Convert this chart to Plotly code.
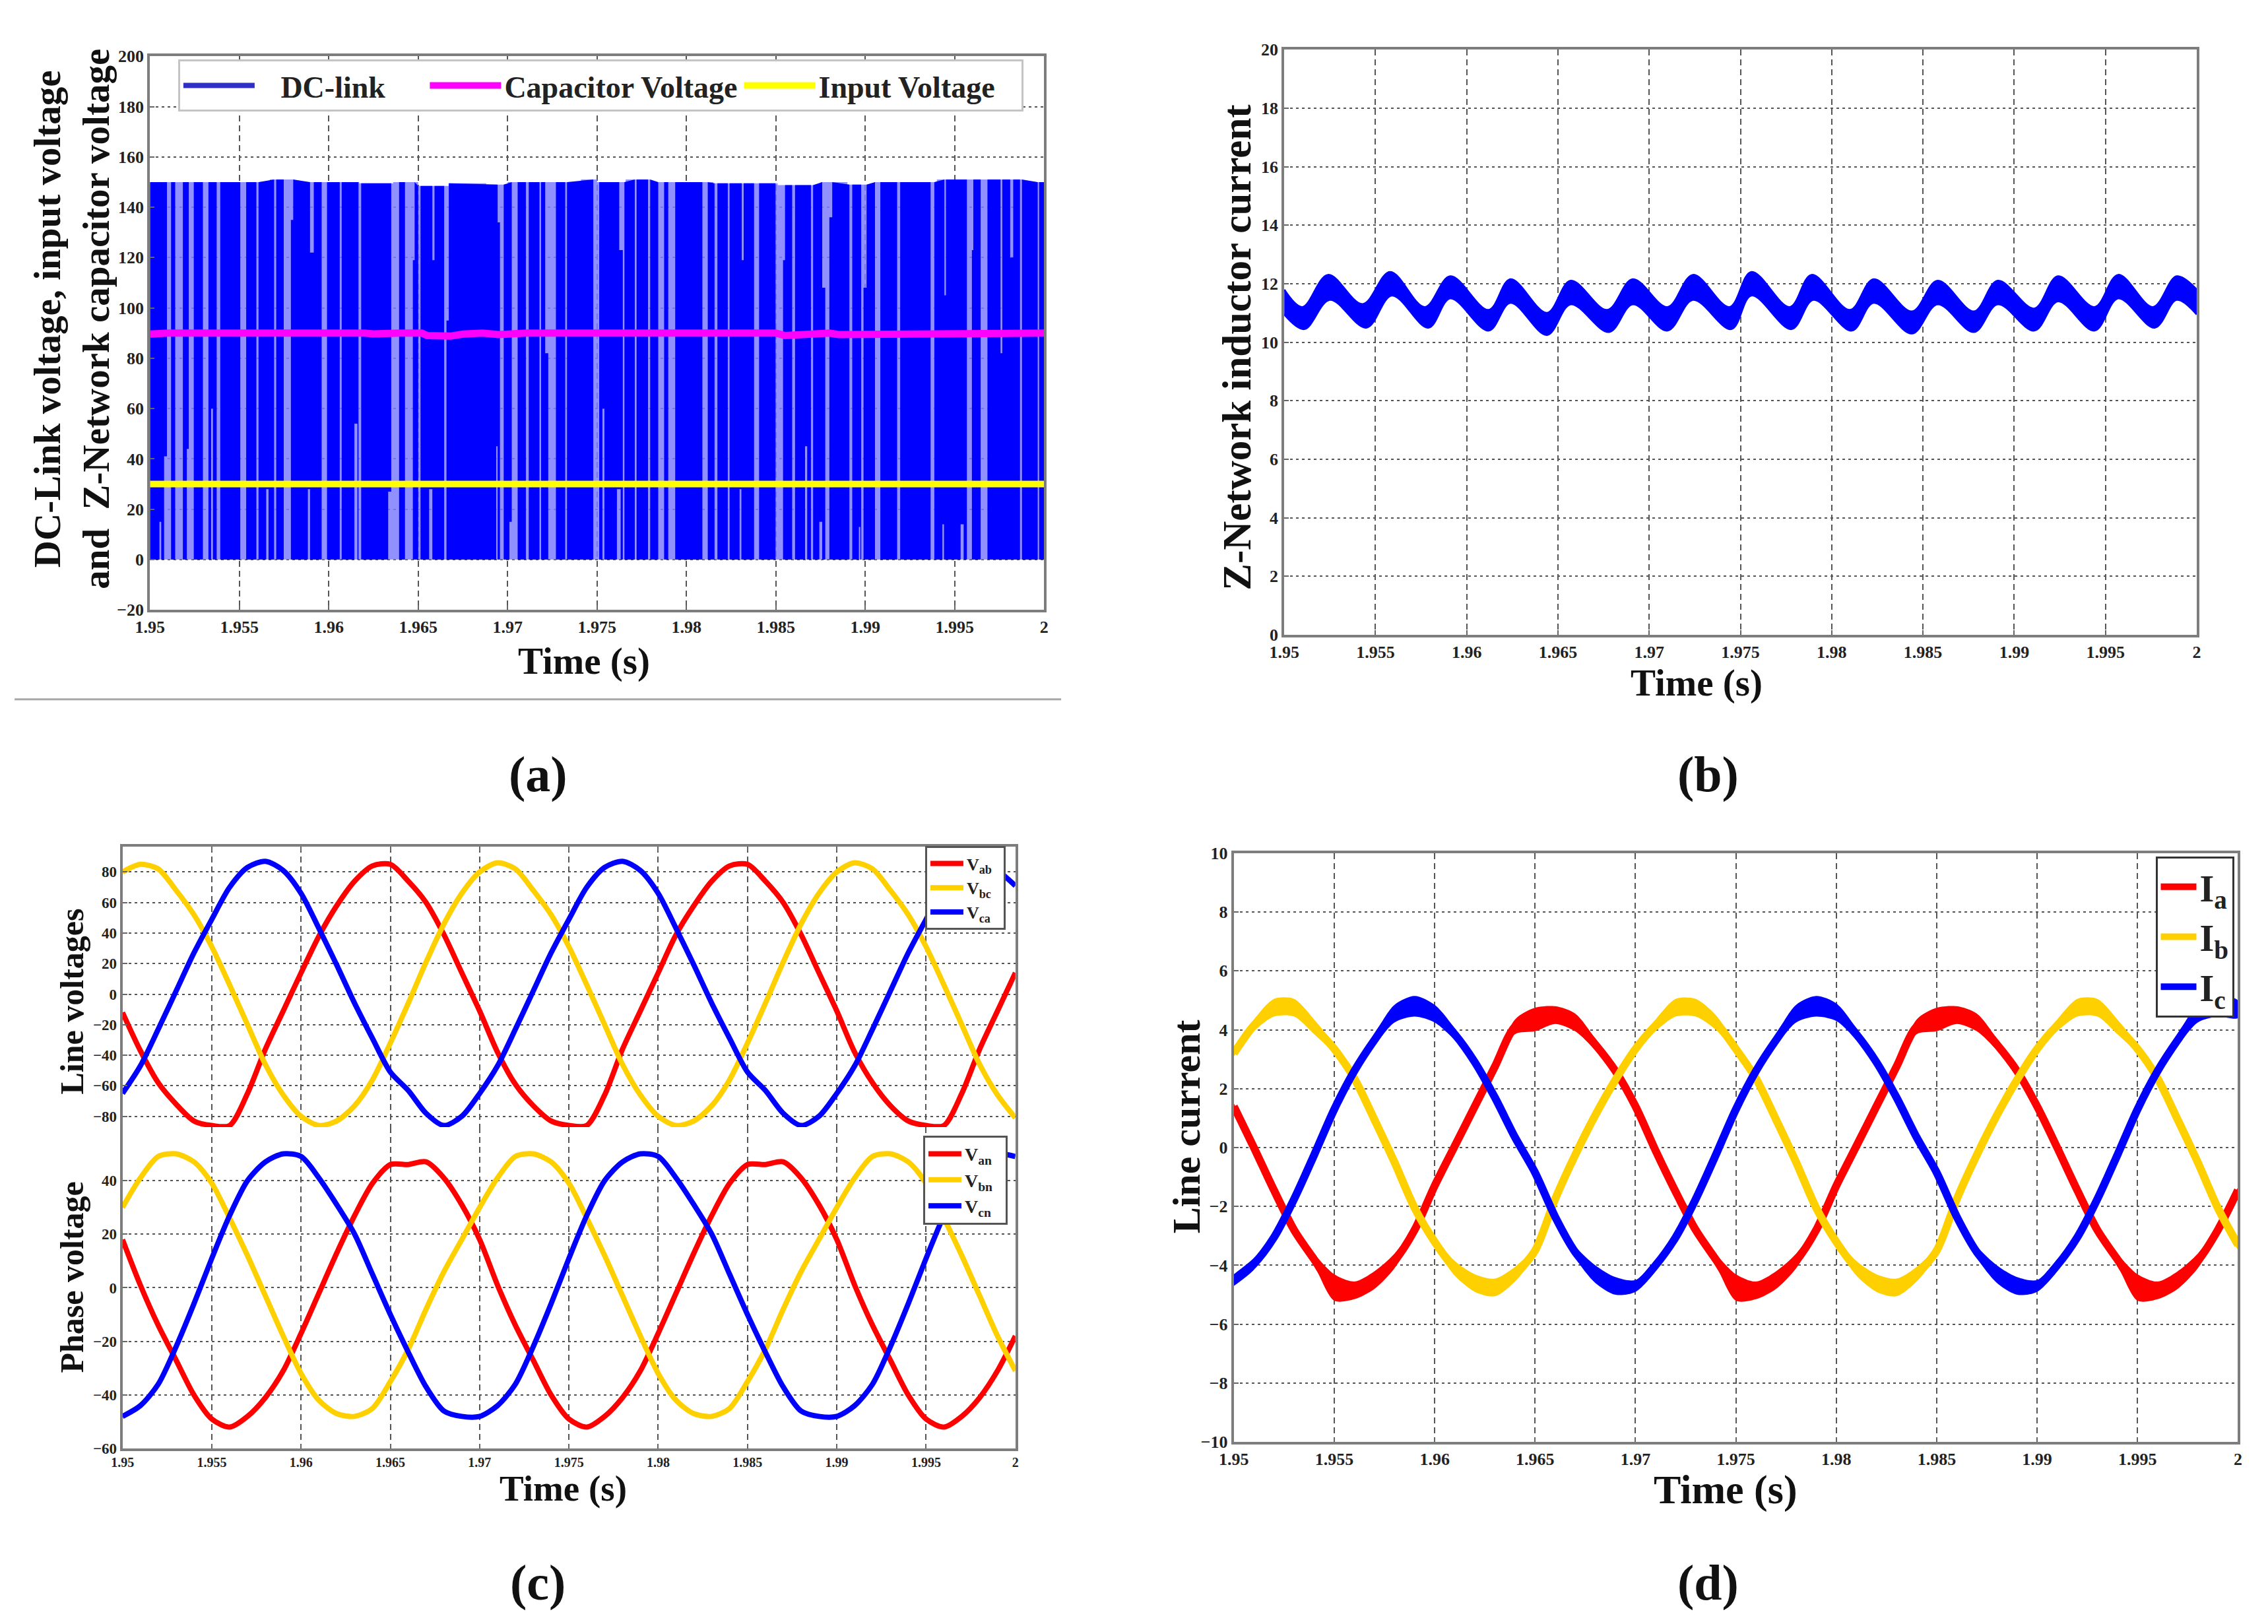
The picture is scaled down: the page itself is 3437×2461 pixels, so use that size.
#%% imports and data
from bisect import bisect_right

import numpy as np
import plotly.graph_objects as go

W, H = 3437, 2461
SERIF = "Liberation Serif"

time_s = np.linspace(1.95, 2.0, 51)
x_ticks = [1.95, 1.955, 1.96, 1.965, 1.97, 1.975, 1.98, 1.985, 1.99, 1.995, 2.0]
x_ticktext = ["1.95", "1.955", "1.96", "1.965", "1.97", "1.975", "1.98", "1.985", "1.99", "1.995", "2"]

# (a) dc link: top edge of the pulses and the lighter gaps between them
dc_top_t = [1.95, 1.9567, 1.9581, 1.9617, 1.9636, 1.965, 1.9667, 1.9688, 1.97, 1.9741, 1.975, 1.9766, 1.978, 1.9815, 1.9851, 1.9875, 1.989, 1.9905, 1.994, 1.9988, 2.0]
dc_top_v = [150, 151, 150, 149.5, 150, 148.5, 149.5, 149, 150, 151, 150, 151, 150, 149.5, 148.8, 150, 149, 150, 151, 150, 150]
gap_t0 = [1.95095, 1.95141, 1.95217, 1.95296, 1.95373, 1.95505, 1.95595, 1.95694, 1.95748, 1.95788, 1.95895, 1.9596, 1.96061, 1.96166, 1.96349, 1.96426, 1.9647, 1.965, 1.96579, 1.96645, 1.96658, 1.96944, 1.96957, 1.97023, 1.97102, 1.97178, 1.9721, 1.97227, 1.97322, 1.97479, 1.97624, 1.97644, 1.97711, 1.97785, 1.97842, 1.97898, 1.98089, 1.98157, 1.98231, 1.98309, 1.98378, 1.98498, 1.9854, 1.98591, 1.98696, 1.98759, 1.98776, 1.98799, 1.98911, 1.98977, 1.9899, 1.99054, 1.99178, 1.99365, 1.99442, 1.99568, 1.99596, 1.99645, 1.99756, 1.9981, 1.99865, 1.99964]
gap_t1 = [1.95118, 1.95184, 1.95245, 1.95327, 1.95393, 1.95538, 1.95607, 1.95706, 1.95788, 1.95801, 1.95916, 1.9599, 1.96072, 1.96181, 1.96393, 1.9647, 1.9648, 1.96513, 1.96591, 1.96658, 1.96671, 1.96957, 1.96978, 1.97056, 1.97118, 1.97187, 1.97227, 1.9727, 1.97332, 1.97512, 1.97644, 1.97653, 1.97721, 1.97797, 1.97875, 1.97937, 1.98119, 1.98173, 1.98241, 1.9832, 1.98406, 1.9854, 1.98551, 1.98607, 1.98708, 1.98776, 1.98799, 1.98815, 1.98927, 1.9899, 1.99007, 1.99084, 1.99195, 1.99386, 1.99451, 1.99596, 1.99604, 1.99683, 1.99766, 1.99827, 1.99876, 1.99972]
gap_lo = [0, 0, 0, 0, 0, 0, 0, 0, 0, 135, 122, 0, 0, 0, 0, 0, 119, 0, 119, 0, 95, 134, 0, 0, 0, 0, 82, 0, 0, 0, 123, 0, 0, 0, 0, 0, 0, 0, 0, 119, 0, 0, 119, 0, 0, 108, 0, 136, 0, 0, 108, 0, 0, 0, 105, 0, 123, 0, 82, 120, 0, 0]
low_t0 = [1.95053, 1.95079, 1.95206, 1.95342, 1.9565, 1.95883, 1.96143, 1.96332, 1.96561, 1.96936, 1.9701, 1.9753, 1.97611, 1.98297, 1.98663, 1.98743, 1.98964, 1.99431, 1.99533]
low_t1 = [1.95063, 1.95095, 1.95217, 1.95352, 1.95663, 1.95895, 1.9616, 1.96349, 1.96579, 1.96944, 1.97023, 1.97541, 1.97632, 1.98307, 1.98675, 1.98759, 1.98972, 1.9944, 1.9955]
low_hi = [15, 41, 44, 60, 28, 28, 54, 27, 28, 45, 15, 60, 28, 28, 45, 15, 13, 14, 14]
cap_t = [1.95, 1.951, 1.962, 1.9625, 1.964, 1.9652, 1.9655, 1.9668, 1.9675, 1.9686, 1.9695, 1.971, 1.985, 1.9855, 1.987, 1.988, 1.9885, 1.9895, 1.9905, 2.0]
cap_v = [89.6, 90, 90, 89.7, 90, 90, 89, 88.8, 89.6, 90, 89.4, 90, 90, 89, 89.6, 90, 89.4, 89.4, 90, 90]
input_t = [1.95, 2.0]
input_v = [30, 30]

# (b) inductor current band, outer and inner edge
il_top_t = [1.95, 1.951, 1.9524, 1.9543, 1.9558, 1.9577, 1.9591, 1.9612, 1.9624, 1.9644, 1.9657, 1.9677, 1.9691, 1.971, 1.9724, 1.9744, 1.9756, 1.9777, 1.9789, 1.981, 1.9823, 1.9844, 1.9858, 1.9878, 1.9891, 1.9911, 1.9924, 1.9944, 1.9957, 1.9976, 1.9989, 2.0]
il_top_v = [11.8, 11.2, 12.3, 11.3, 12.4, 11.2, 12.25, 11.1, 12.15, 11.0, 12.1, 11.1, 12.15, 11.2, 12.3, 11.2, 12.4, 11.2, 12.3, 11.1, 12.15, 11.05, 12.1, 11.05, 12.1, 11.15, 12.25, 11.2, 12.3, 11.2, 12.25, 11.8]
il_low_t = [1.95, 1.9511, 1.9525, 1.9545, 1.9559, 1.9579, 1.9591, 1.9612, 1.9624, 1.9644, 1.9657, 1.9678, 1.9691, 1.971, 1.9724, 1.9745, 1.9756, 1.9778, 1.979, 1.9811, 1.9823, 1.9844, 1.9858, 1.9878, 1.9891, 1.9911, 1.9924, 1.9944, 1.9957, 1.9977, 1.9989, 2.0]
il_low_v = [10.95, 10.45, 11.45, 10.5, 11.6, 10.5, 11.5, 10.4, 11.35, 10.25, 11.3, 10.35, 11.3, 10.4, 11.45, 10.45, 11.6, 10.45, 11.45, 10.4, 11.35, 10.3, 11.3, 10.35, 11.3, 10.4, 11.4, 10.4, 11.5, 10.5, 11.45, 10.95]

# (c) line voltages
v_ab = [-12, -37, -58, -72, -83, -86, -86, -65, -36, -11, 14, 38, 58, 74, 84, 85, 74, 60, 39, 14, -11, -38, -59, -73, -83, -86, -86, -66, -36, -11, 14, 39, 58, 74, 84, 85, 74, 60, 39, 14, -11, -38, -58, -73, -83, -86, -86, -65, -36, -11, 14]
v_bc = [80, 85, 82, 68, 52, 31, 6, -20, -46, -66, -80, -86, -83, -73, -56, -32, -6, 21, 46, 66, 80, 86, 82, 68, 52, 31, 6, -20, -46, -66, -80, -86, -83, -73, -56, -32, -6, 21, 46, 66, 80, 86, 82, 68, 52, 31, 6, -20, -46, -66, -81]
v_ca = [-65, -47, -23, 2, 27, 49, 70, 83, 87, 81, 66, 43, 19, -6, -29, -51, -63, -78, -86, -80, -65, -47, -23, 2, 27, 49, 70, 83, 87, 81, 66, 43, 19, -6, -29, -51, -63, -78, -86, -80, -65, -47, -23, 2, 27, 49, 70, 83, 87, 81, 71]
# (c) phase voltages
v_an = [18, 1, -14, -27, -40, -49, -52, -48, -41, -31, -17, -2, 13, 27, 39, 46, 46, 47, 41, 31, 18, 1, -14, -27, -40, -49, -52, -48, -41, -31, -17, -2, 13, 27, 39, 46, 46, 47, 41, 31, 18, 1, -14, -27, -40, -49, -52, -48, -41, -31, -18]
v_bn = [30, 41, 49, 50, 47, 39, 26, 12, -3, -18, -32, -42, -47, -48, -45, -35, -23, -8, 6, 18, 30, 41, 49, 50, 47, 39, 26, 12, -3, -18, -32, -42, -47, -48, -45, -35, -23, -8, 6, 18, 30, 41, 49, 50, 47, 39, 26, 12, -3, -18, -31]
v_cn = [-48, -44, -36, -22, -6, 11, 27, 40, 47, 50, 49, 41, 31, 20, 5, -10, -24, -37, -46, -48, -48, -44, -36, -22, -6, 11, 27, 40, 47, 50, 49, 41, 31, 20, 5, -10, -24, -37, -46, -48, -48, -44, -36, -22, -6, 11, 27, 40, 47, 50, 49]

# (d) line currents and half the height of their noisy band
i_a = [1.4, 0, -1.45, -2.8, -3.8, -4.75, -4.85, -4.5, -3.85, -2.8, -1.3, 0.05, 1.4, 2.75, 4.1, 4.35, 4.5, 4.25, 3.5, 2.6, 1.4, -0.1, -1.5, -2.8, -3.8, -4.75, -4.85, -4.5, -3.85, -2.8, -1.3, 0.05, 1.4, 2.75, 4.1, 4.35, 4.5, 4.25, 3.5, 2.6, 1.4, 0, -1.45, -2.8, -3.8, -4.75, -4.85, -4.5, -3.85, -2.8, -1.45]
i_b = [3.2, 4.15, 4.75, 4.75, 4.1, 3.35, 2.35, 0.95, -0.5, -2.05, -3.2, -4.1, -4.6, -4.75, -4.3, -3.5, -1.75, -0.25, 1.1, 2.3, 3.35, 4.15, 4.75, 4.75, 4.25, 3.35, 2.35, 0.95, -0.5, -2.05, -3.2, -4.1, -4.6, -4.75, -4.3, -3.5, -1.75, -0.25, 1.1, 2.3, 3.35, 4.15, 4.75, 4.75, 4.1, 3.35, 2.35, 0.95, -0.5, -2.05, -3.3]
i_c = [-4.5, -3.95, -3.05, -1.75, -0.25, 1.3, 2.6, 3.65, 4.55, 4.8, 4.55, 3.85, 2.9, 1.7, 0.35, -0.85, -2.35, -3.55, -4.3, -4.7, -4.7, -4.0, -3.05, -1.75, -0.25, 1.3, 2.6, 3.65, 4.55, 4.8, 4.6, 3.85, 2.9, 1.7, 0.35, -0.85, -2.35, -3.55, -4.3, -4.7, -4.7, -4.0, -3.05, -1.75, -0.25, 1.3, 2.6, 3.65, 4.55, 4.8, 4.7]
i_a_half = [0.1, 0.08, 0.08, 0.12, 0.2, 0.45, 0.3, 0.3, 0.25, 0.15, 0.08, 0.08, 0.1, 0.1, 0.25, 0.4, 0.3, 0.3, 0.2, 0.1, 0.1, 0.08, 0.08, 0.12, 0.2, 0.45, 0.3, 0.3, 0.25, 0.15, 0.08, 0.08, 0.1, 0.1, 0.25, 0.4, 0.3, 0.3, 0.2, 0.1, 0.1, 0.08, 0.08, 0.12, 0.2, 0.45, 0.3, 0.3, 0.25, 0.15, 0.08]
i_b_half = [0.1, 0.2, 0.3, 0.3, 0.25, 0.15, 0.08, 0.06, 0.06, 0.1, 0.15, 0.25, 0.3, 0.3, 0.25, 0.15, 0.1, 0.06, 0.06, 0.08, 0.1, 0.2, 0.3, 0.3, 0.25, 0.15, 0.08, 0.06, 0.06, 0.1, 0.15, 0.25, 0.3, 0.3, 0.25, 0.15, 0.1, 0.06, 0.06, 0.08, 0.1, 0.2, 0.3, 0.3, 0.25, 0.15, 0.08, 0.06, 0.06, 0.1, 0.15]
i_c_half = [0.2, 0.2, 0.12, 0.08, 0.06, 0.06, 0.1, 0.2, 0.3, 0.35, 0.3, 0.2, 0.1, 0.06, 0.06, 0.08, 0.1, 0.2, 0.3, 0.3, 0.2, 0.2, 0.12, 0.08, 0.06, 0.06, 0.1, 0.2, 0.3, 0.35, 0.3, 0.2, 0.1, 0.06, 0.06, 0.08, 0.1, 0.2, 0.3, 0.3, 0.2, 0.2, 0.12, 0.08, 0.06, 0.06, 0.1, 0.2, 0.3, 0.35, 0.3]

RED, GOLD, BLUE = "#ff0000", "#ffd000", "#0000ff"


#%% helpers
def px_x(x0, x1):
    return [x0 / W, x1 / W]


def px_y(y0, y1):
    # pixel rows from the top of the page, to a paper domain
    return [1 - y1 / H, 1 - y0 / H]


def top_at(t):
    return dc_top_v[max(bisect_right(dc_top_t, t) - 1, 0)]


def dc_outline():
    # one polygon along the pulse tops, back along the floor
    up_x, up_y = [1.95], [top_at(1.95)]
    for t0, t1, lo in zip(gap_t0, gap_t1, gap_lo):
        up_x += [t0, t0, t1, t1]
        up_y += [top_at(t0), lo, lo, top_at(t1)]
    up_x.append(2.0)
    up_y.append(top_at(2.0))
    dn_x, dn_y = [1.95], [0]
    for t0, t1, hi in zip(low_t0, low_t1, low_hi):
        dn_x += [t0, t0, t1, t1]
        dn_y += [0, hi, hi, 0]
    dn_x.append(2.0)
    dn_y.append(0)
    return up_x + dn_x[::-1], up_y + dn_y[::-1]


def x_axis(left, right, anchor, labels=True, size=26, side="bottom", mirror=True):
    return dict(
        domain=px_x(left, right),
        anchor=anchor,
        range=[1.95, 2.0],
        tickvals=x_ticks,
        ticktext=x_ticktext,
        showticklabels=labels,
        tickfont=dict(family=SERIF, size=size, color="#222", weight=700),
        ticks="inside",
        ticklen=7,
        tickwidth=2,
        tickcolor="#666",
        showgrid=True,
        gridcolor="#555",
        gridwidth=2,
        griddash="9px,6px",
        zeroline=False,
        showline=True,
        linecolor="#7d7d7d",
        linewidth=4,
        mirror=mirror,
        side=side,
    )


def y_axis(top, bottom, anchor, rng, ticks, size=26):
    return dict(
        domain=px_y(top, bottom),
        anchor=anchor,
        range=rng,
        tickvals=ticks,
        tickfont=dict(family=SERIF, size=size, color="#222", weight=700),
        ticks="inside",
        ticklen=7,
        tickwidth=2,
        tickcolor="#666",
        showgrid=True,
        gridcolor="#555",
        gridwidth=2,
        griddash="4px,5px",
        zeroline=False,
        showline=True,
        linecolor="#7d7d7d",
        linewidth=4,
        mirror=True,
    )


def legend_box(left, top, size, border, **kw):
    return dict(
        x=left / W,
        y=1 - top / H,
        xanchor="left",
        yanchor="top",
        traceorder="normal",
        bgcolor="white",
        bordercolor=border,
        borderwidth=3,
        font=dict(family=SERIF, size=size, color="#222", weight=700),
        **kw,
    )


def title_text(text, x, y, size, angle=0):
    return dict(
        text=text,
        x=x / W,
        y=1 - y / H,
        xref="paper",
        yref="paper",
        xanchor="center",
        yanchor="middle",
        showarrow=False,
        textangle=angle,
        font=dict(family=SERIF, size=size, color="#111", weight=700),
    )


#%% traces
fig = go.Figure()

# panel (a)
fig.add_trace(
    go.Scatter(
        x=dc_top_t,
        y=dc_top_v,
        mode="lines",
        line=dict(width=0, shape="hv"),
        fill="tozeroy",
        fillcolor="rgba(125,125,255,0.85)",
        showlegend=False,
        hoverinfo="skip",
        xaxis="x",
        yaxis="y",
    )
)
poly_x, poly_y = dc_outline()
fig.add_trace(
    go.Scatter(
        x=poly_x,
        y=poly_y,
        mode="lines",
        line=dict(width=0, color=BLUE),
        fill="toself",
        fillcolor=BLUE,
        showlegend=False,
        hoverinfo="skip",
        xaxis="x",
        yaxis="y",
    )
)
# legend swatch of the dc link, the polygon itself would draw a filled box
fig.add_trace(
    go.Scatter(
        x=[None],
        y=[None],
        mode="lines",
        name="\u00a0\u00a0\u00a0DC-link\u00a0\u00a0\u00a0\u00a0\u00a0",
        line=dict(color="#2f2fc4", width=8),
        xaxis="x",
        yaxis="y",
        legend="legend",
    )
)
fig.add_trace(
    go.Scatter(
        x=cap_t, y=cap_v, mode="lines", name="Capacitor Voltage",
        line=dict(color="#ff00ff", width=11), xaxis="x", yaxis="y", legend="legend",
    )
)
fig.add_trace(
    go.Scatter(
        x=input_t, y=input_v, mode="lines", name="Input Voltage\u00a0\u00a0\u00a0",
        line=dict(color="#ffff00", width=10), xaxis="x", yaxis="y", legend="legend",
    )
)

# panel (b)
fig.add_trace(
    go.Scatter(
        x=il_top_t, y=il_top_v, mode="lines", line=dict(color=BLUE, width=3, shape="spline"),
        showlegend=False, xaxis="x2", yaxis="y2",
    )
)
fig.add_trace(
    go.Scatter(
        x=il_low_t, y=il_low_v, mode="lines", line=dict(color=BLUE, width=3, shape="spline"),
        fill="tonexty", fillcolor=BLUE, showlegend=False, xaxis="x2", yaxis="y2",
    )
)

# panel (c)
voltages = [
    (v_ab, "V<sub>ab</sub>\u00a0\u00a0", RED, "x3", "y3", "legend2"),
    (v_bc, "V<sub>bc</sub>\u00a0\u00a0", GOLD, "x3", "y3", "legend2"),
    (v_ca, "V<sub>ca</sub>\u00a0\u00a0", BLUE, "x3", "y3", "legend2"),
    (v_an, "V<sub>an</sub>\u00a0\u00a0", RED, "x4", "y4", "legend3"),
    (v_bn, "V<sub>bn</sub>\u00a0\u00a0", GOLD, "x4", "y4", "legend3"),
    (v_cn, "V<sub>cn</sub>\u00a0\u00a0", BLUE, "x4", "y4", "legend3"),
]
for vals, name, color, xa, ya, lg in voltages:
    fig.add_trace(
        go.Scatter(
            x=time_s,
            y=vals,
            mode="lines",
            name=name,
            line=dict(color=color, width=8, shape="spline", smoothing=0.8),
            xaxis=xa,
            yaxis=ya,
            legend=lg,
        )
    )

# panel (d): noise band under each line
currents = [
    (i_a, i_a_half, "I<sub>a</sub>", RED),
    (i_b, i_b_half, "I<sub>b</sub>", GOLD),
    (i_c, i_c_half, "I<sub>c</sub>", BLUE),
]
for vals, half, name, color in currents:
    upper = [v + h for v, h in zip(vals, half)]
    lower = [v - h for v, h in zip(vals, half)]
    fig.add_trace(
        go.Scatter(
            x=list(time_s) + list(time_s[::-1]),
            y=upper + lower[::-1],
            mode="lines",
            line=dict(width=0, color=color, shape="spline", smoothing=0.8),
            fill="toself",
            fillcolor=color,
            showlegend=False,
            hoverinfo="skip",
            xaxis="x5",
            yaxis="y5",
        )
    )
    fig.add_trace(
        go.Scatter(
            x=time_s,
            y=vals,
            mode="lines",
            name=name,
            line=dict(color=color, width=12, shape="spline", smoothing=0.8),
            xaxis="x5",
            yaxis="y5",
            legend="legend4",
        )
    )

#%% layout
fig.update_layout(
    width=W,
    height=H,
    margin=dict(l=0, r=0, t=0, b=0),
    paper_bgcolor="white",
    plot_bgcolor="white",
    hovermode=False,
    xaxis=x_axis(198, 1565, "y"),
    yaxis=y_axis(64, 913, "x", [-20, 200], list(range(-20, 201, 20))),
    xaxis2=x_axis(1932, 3327, "y2"),
    yaxis2=y_axis(54, 951, "x2", [0, 20], list(range(0, 21, 2))),
    xaxis3=x_axis(156, 1521, "y3", labels=False, side="top", mirror=False),
    yaxis3=y_axis(1276, 1706, "x3", [-87, 96.6], list(range(-80, 81, 20)), size=23),
    xaxis4=x_axis(156, 1521, "y4", size=20, mirror=False),
    yaxis4=y_axis(1706, 2199, "x4", [-60, 60], list(range(-60, 41, 20)), size=23),
    xaxis5=x_axis(1855, 3390, "y5"),
    yaxis5=y_axis(1286, 2189, "x5", [-10, 10], list(range(-10, 11, 2))),
    legend=legend_box(241, 69, 46, "#c4c4c4", orientation="h", itemwidth=108),
    legend2=legend_box(1383, 1275, 26, "#555", itemwidth=50),
    legend3=legend_box(1380, 1719, 28, "#555", itemwidth=50),
    legend4=legend_box(3264, 1291, 56, "#333", itemwidth=54),
    annotations=[
        title_text("DC-Link voltage, input voltage<br>and  Z-Network capacitor voltage", 78, 467, 57, -90),
        title_text("Time (s)", 862, 992, 57),
        title_text("Z-Network inductor current", 1860, 510, 61, -90),
        title_text("Time (s)", 2562, 1025, 57),
        title_text("Line voltages", 79, 1513, 50, -90),
        title_text("Phase voltage", 79, 1936, 50, -90),
        title_text("Time (s)", 830, 2260, 55),
        title_text("Line current", 1782, 1705, 60, -90),
        title_text("Time (s)", 2607, 2262, 62),
        title_text("(a)", 791, 1165, 76),
        title_text("(b)", 2580, 1165, 76),
        title_text("(c)", 791, 2405, 76),
        title_text("(d)", 2580, 2405, 76),
    ],
    shapes=[
        dict(
            type="line", xref="paper", yref="paper",
            x0=-9 / W, x1=1591 / W, y0=1 - 1050 / H, y1=1 - 1050 / H,
            line=dict(color="#a8a8a8", width=3),
        )
    ],
)

fig.write_html("out.html")
